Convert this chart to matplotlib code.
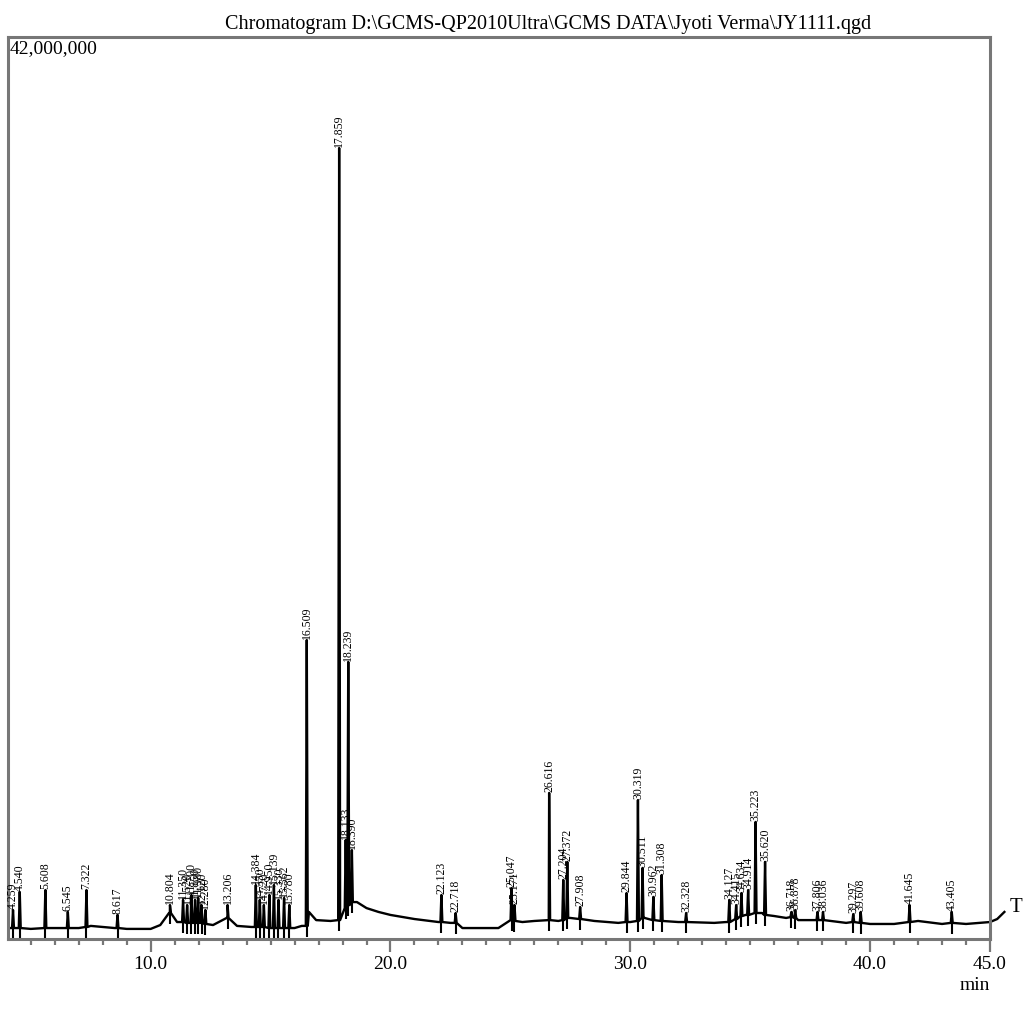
import matplotlib
matplotlib.use("Agg")
import matplotlib.pyplot as plt
from matplotlib.ticker import MultipleLocator, FixedLocator

plt.rcParams['font.family'] = ['Liberation Serif', 'DejaVu Serif']

# retention times (min) of the labelled peaks
peak_rt = [4.259, 4.540, 5.608, 6.545, 7.322, 8.617, 10.804,
           11.350, 11.520, 11.700, 11.850, 11.980, 12.120, 12.280, 13.206,
           14.384, 14.550, 14.720, 14.950, 15.139, 15.330, 15.562, 15.780,
           16.509, 17.859, 18.133, 18.239, 18.390, 22.123, 22.718,
           25.047, 25.171, 26.616, 27.204, 27.372, 27.908, 29.844,
           30.319, 30.511, 30.962, 31.308, 32.328, 34.127, 34.415,
           34.634, 34.914, 35.223, 35.620, 36.718, 36.878, 37.806,
           38.036, 39.297, 39.608, 41.645, 43.405]
# peak apex intensity (millions of counts)
peak_top = [1.35, 2.19, 2.28, 1.26, 2.28, 1.12, 1.58,
            1.82, 1.58, 2.05, 1.82, 1.91, 1.58, 1.35, 1.58,
            2.51, 1.82, 1.58, 2.05, 2.51, 1.82, 1.91, 1.58,
            13.92, 36.83, 4.61, 12.90, 4.14, 2.05, 1.21,
            2.37, 1.58, 6.80, 2.75, 3.59, 1.49, 2.14,
            6.47, 3.31, 1.96, 2.98, 1.21, 1.82, 1.58,
            2.14, 2.28, 5.45, 3.59, 1.26, 1.35, 1.26,
            1.26, 1.16, 1.26, 1.58, 1.26]
# signal level at the foot of each peak (millions)
peak_base = [0.51, 0.51, 0.51, 0.51, 0.56, 0.51, 1.21,
             0.79, 0.75, 0.75, 0.75, 0.75, 0.75, 0.70, 0.98,
             0.56, 0.56, 0.56, 0.51, 0.51, 0.51, 0.51, 0.51,
             0.61, 0.88, 1.44, 1.58, 1.72, 0.79, 0.75,
             0.88, 0.84, 0.88, 0.88, 0.98, 0.93, 0.79,
             0.84, 0.98, 0.88, 0.84, 0.79, 0.79, 0.93,
             1.07, 1.12, 1.21, 1.12, 1.02, 0.98, 0.88,
             0.88, 0.79, 0.75, 0.79, 0.75]
peak_label = ['4.259', '4.540', '5.608', '6.545', '7.322', '8.617', '10.804',
              '11.350', '11.520', '11.700', '11.850', '11.980', '12.120', '12.280', '13.206',
              '14.384', '14.550', '14.720', '14.950', '15.139', '15.330', '15.562', '15.780',
              '16.509', '17.859', '18.133', '18.239', '18.390', '22.123', '22.718',
              '25.047', '25.171', '26.616', '27.204', '27.372', '27.908', '29.844',
              '30.319', '30.511', '30.962', '31.308', '32.328', '34.127', '34.415',
              '34.634', '34.914', '35.223', '35.620', '36.718', '36.878', '37.806',
              '38.036', '39.297', '39.608', '41.645', '43.405']

# baseline of the trace between peaks (min, millions)
base_rt = [4.05, 5.0, 6.0, 7.0, 7.5, 8.0, 8.5, 9.0, 10.0, 10.4, 10.8, 11.1,
           12.6, 13.2, 13.6, 14.2, 16.0, 16.3, 16.6, 16.9, 17.5, 17.8, 18.3,
           18.6, 19.0, 19.5, 20.0, 21.0, 22.0, 22.5, 23.0, 24.5, 25.1, 25.5,
           26.0, 26.6, 27.0, 27.5, 28.5, 29.5, 30.0, 30.6, 31.0, 32.0, 33.5,
           34.0, 34.8, 35.5, 36.0, 36.5, 37.0, 38.0, 39.0, 40.0, 41.0, 42.0,
           43.0, 44.0, 45.0]
base_val = [0.51, 0.47, 0.51, 0.51, 0.61, 0.56, 0.51, 0.47, 0.47, 0.65, 1.21, 0.79,
            0.65, 0.98, 0.61, 0.56, 0.51, 0.61, 1.26, 0.88, 0.84, 0.88, 1.58,
            1.72, 1.44, 1.26, 1.12, 0.93, 0.79, 0.75, 0.51, 0.51, 0.88, 0.79,
            0.84, 0.88, 0.84, 0.98, 0.84, 0.75, 0.79, 0.98, 0.88, 0.79, 0.75,
            0.79, 1.12, 1.21, 1.07, 0.98, 0.88, 0.88, 0.75, 0.70, 0.70, 0.84,
            0.70, 0.70, 0.79]

# trace continues a little past the axis end
tail_rt = [45.0, 45.3, 45.6]
tail_val = [0.79, 0.93, 1.26]

title = r"Chromatogram D:\GCMS-QP2010Ultra\GCMS DATA\Jyoti Verma\JY1111.qgd"

# build trace: baseline points plus a narrow spike for every peak
half_w = 0.04
pts = list(zip(base_rt, base_val))
for rt, top, base in zip(peak_rt, peak_top, peak_base):
    pts += [(rt - half_w, base), (rt, top), (rt + half_w, base)]
pts.sort()
xs = [p[0] for p in pts]
ys = [p[1] * 1e6 for p in pts]

fig = plt.figure(figsize=(10.24, 10.24), dpi=100)
ax = fig.add_axes([8 / 1024, 1 - 939 / 1024, 982 / 1024, 902 / 1024])

frame_col = '#777777'
ax.plot(xs, ys, color='black', lw=1.7)
ax.plot(tail_rt, [v * 1e6 for v in tail_val], color='black', lw=1.7, clip_on=False)

# integration marks below each peak
ax.vlines(peak_rt, [(b - 0.5) * 1e6 for b in peak_base], [b * 1e6 for b in peak_base],
          color='black', lw=1.5)

for rt, top, lab in zip(peak_rt, peak_top, peak_label):
    ax.annotate(lab, (rt, top * 1e6), xytext=(0, 1), textcoords='offset points',
                rotation=90, ha='center', va='bottom', fontsize=8.5,
                fontstretch='condensed')

ax.set_xlim(4.05, 45.0)
ax.set_ylim(0, 42e6)

for s in ax.spines.values():
    s.set_color(frame_col)
    s.set_linewidth(2.2)

ax.xaxis.set_major_locator(FixedLocator([10, 20, 30, 40, 45]))
ax.xaxis.set_minor_locator(MultipleLocator(1.0))
ax.set_xticklabels(['10.0', '20.0', '30.0', '40.0', '45.0'])
ax.tick_params(axis='x', which='major', direction='out', length=9, width=1.6,
               color=frame_col, labelsize=14, pad=3)
ax.tick_params(axis='x', which='minor', direction='out', length=4.5, width=1.6,
               color=frame_col)
ax.set_yticks([])

ax.text(0.002, 0.997, '42,000,000', transform=ax.transAxes, ha='left', va='top',
        fontsize=14)
ax.text(45.8, 1.45e6, 'T', ha='left', va='center', fontsize=15, clip_on=False)

fig.text(548 / 1024, 1 - 25 / 1024, title, ha='center', va='center', fontsize=14.5)
fig.text(975 / 1024, 1 - 985 / 1024, 'min', ha='center', va='center', fontsize=14)

fig.savefig('out.png', dpi=100)
